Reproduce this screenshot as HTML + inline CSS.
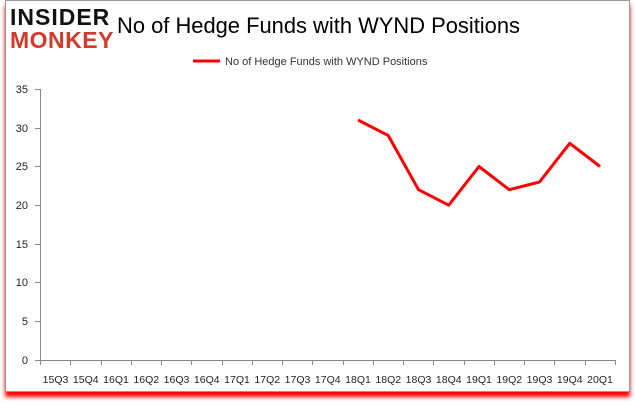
<!DOCTYPE html>
<html><head><style>
body{margin:0;background:#fff;}
.wrap{position:relative;width:635px;height:405px;overflow:hidden;background:#fff;font-family:"Liberation Sans",sans-serif;}
.frame{position:absolute;left:5px;top:0;width:625px;height:392px;border:1px solid #999;box-sizing:border-box;box-shadow:0 5px 4px #f00;background:#fff;}
</style></head><body><div class="wrap">
<div class="frame"></div>
<svg width="635" height="405" style="position:absolute;left:0;top:0">
<text x="10" y="25" font-size="23" font-weight="bold" fill="#111" font-family="Liberation Sans" letter-spacing="1">INSIDER</text>
<text x="10" y="48" font-size="23" font-weight="bold" fill="#d23a2a" font-family="Liberation Sans" letter-spacing="0.5">MONKEY</text>
<text x="117" y="33" font-size="22" fill="#000" textLength="403" lengthAdjust="spacingAndGlyphs">No of Hedge Funds with WYND Positions</text>
<line x1="193" y1="61" x2="220" y2="61" stroke="#f00" stroke-width="3"/>
<text x="225" y="65" font-size="11" fill="#333">No of Hedge Funds with WYND Positions</text>
<g font-size="11" fill="#222" text-anchor="end">
<text x="28" y="93">35</text><text x="28" y="132">30</text><text x="28" y="170">25</text>
<text x="28" y="209">20</text><text x="28" y="248">15</text><text x="28" y="286">10</text>
<text x="28" y="325">5</text><text x="28" y="364">0</text>
</g>
<g stroke="#888" stroke-width="1">
<line x1="40.5" y1="89" x2="40.5" y2="360"/>
<line x1="35" y1="89.5" x2="40" y2="89.5"/><line x1="35" y1="128.5" x2="40" y2="128.5"/>
<line x1="35" y1="166.5" x2="40" y2="166.5"/><line x1="35" y1="205.5" x2="40" y2="205.5"/>
<line x1="35" y1="244.5" x2="40" y2="244.5"/><line x1="35" y1="282.5" x2="40" y2="282.5"/>
<line x1="35" y1="321.5" x2="40" y2="321.5"/>
<line x1="35" y1="360.5" x2="615" y2="360.5"/>
</g>
<g id="ticks" stroke="#888"></g>
<g id="labels" font-size="10.5" fill="#222" text-anchor="middle"></g>
<polyline fill="none" stroke="#f00" stroke-width="3" stroke-linejoin="round" points="358,120 388.25,135.5 418.5,189.7 448.75,205.2 479,166.5 509.25,189.7 539.5,182 569.75,143.3 600,166.5"/>
</svg>
<script>
var t=document.getElementById('ticks'),l=document.getElementById('labels');
var labs=["15Q3","15Q4","16Q1","16Q2","16Q3","16Q4","17Q1","17Q2","17Q3","17Q4","18Q1","18Q2","18Q3","18Q4","19Q1","19Q2","19Q3","19Q4","20Q1"];
for(var k=0;k<=19;k++){var x=Math.round(40+k*30.26)+0.5;t.innerHTML+='<line x1="'+x+'" y1="360" x2="'+x+'" y2="365"/>';}
for(var i=0;i<19;i++){l.innerHTML+='<text x="'+(i<10?55.5+i*30.25:358+(i-10)*30.25)+'" y="383">'+labs[i]+'</text>';}
</script>
</div></body></html>
